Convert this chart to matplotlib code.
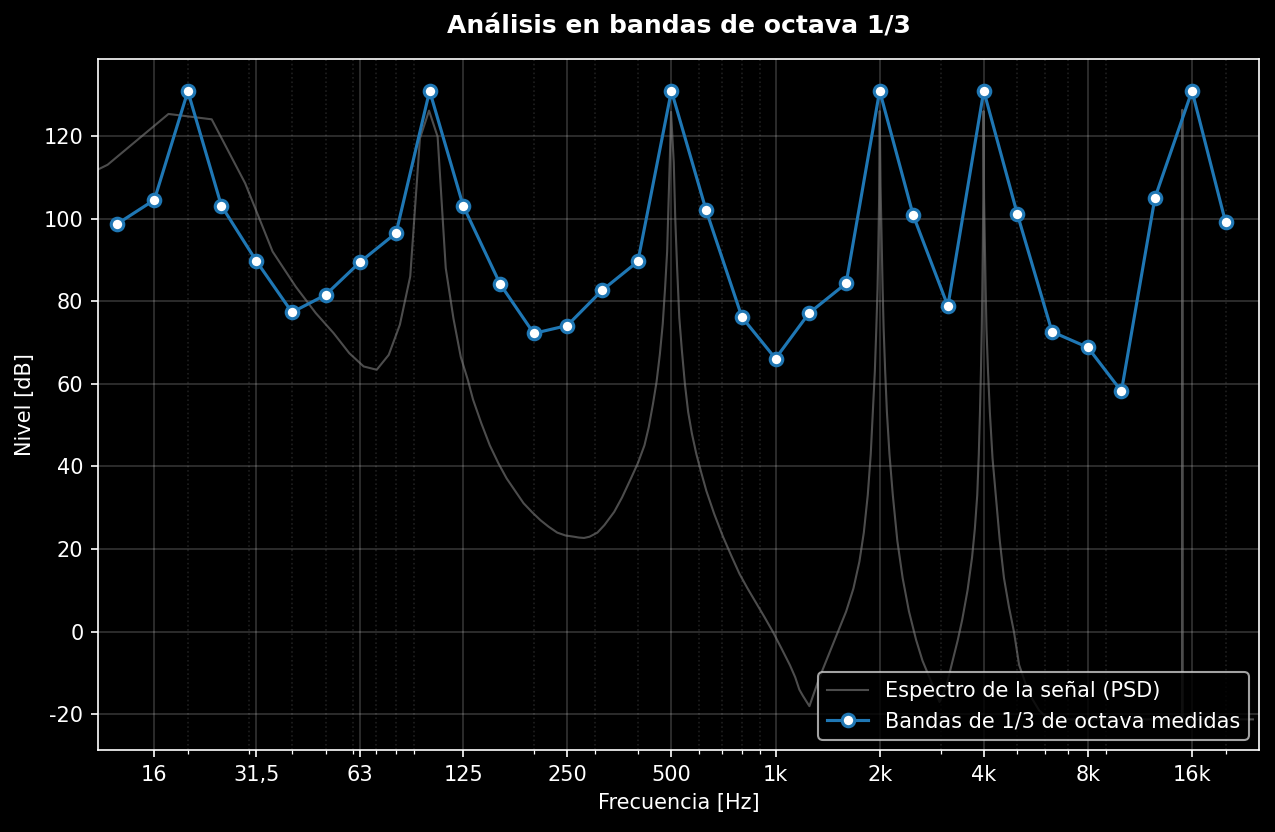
import matplotlib.pyplot as plt
from matplotlib.ticker import NullFormatter

# medicion en bandas de tercio de octava
band_freq = [12.5, 16, 20, 25, 31.5, 40, 50, 63, 80, 100, 125, 160, 200, 250, 315, 400,
             500, 630, 800, 1000, 1250, 1600, 2000, 2500, 3150, 4000, 5000, 6300, 8000,
             10000, 12500, 16000, 20000]
band_db = [98.7, 104.5, 130.8, 103.1, 89.8, 77.3, 81.5, 89.5, 96.5, 130.9, 103.1, 84.1, 72.2,
           74.1, 82.6, 89.6, 130.9, 102.0, 76.1, 66.1, 77.1, 84.3, 130.9, 100.8, 78.8, 130.9,
           101.1, 72.6, 68.8, 58.2, 105.0, 130.9, 99.1]

# espectro (PSD)
psd_freq = [5.86, 11.72, 17.58, 23.44, 29.30, 35.16, 41.02, 46.88, 52.73, 58.59, 64.45,
            70.31, 76.17, 82.03, 87.89, 93.75, 99.61, 105.47, 111.33, 117.19, 123.05,
            128.9, 133.5, 141, 149.3, 158, 167.0, 177, 186.9, 198, 209.1, 221, 233.8, 247,
            261.4, 270, 279.6, 290, 305.6, 320, 341.6, 360, 381.9, 400, 417.9, 430, 442.4,
            453, 463.1, 472, 479.5, 486, 490.6, 495, 498.8,
            508.0, 513, 519.3, 527, 536, 547, 559, 573, 590, 610, 631, 665, 705, 745, 787,
            830, 880, 930, 984, 1040, 1101, 1140, 1172, 1200, 1253,
            1338, 1464, 1600, 1680, 1748, 1800, 1848, 1885, 1911, 1937, 1956, 1972, 1983,
            1993, 2001, 2012, 2028, 2040, 2054, 2075, 2099, 2135, 2183, 2250, 2331, 2430,
            2548, 2660, 2785, 2980, 3120, 3250, 3360, 3465, 3590, 3700, 3770, 3830, 3870,
            3900, 3925, 3947, 3962, 3975, 3986, 3993, 4008, 4030, 4050, 4073, 4115, 4165,
            4240, 4332, 4450, 4576, 4730, 4890, 5060, 5410, 5780, 6170,
            14990, 14995, 15000, 15005, 15010, 24000]
psd_db = [100.6, 113.0, 125.3, 124.0, 108.5, 92.0, 83.5, 77.1, 72.3, 67.4, 64.2,
          63.4, 67.0, 74.3, 86.0, 119.4, 126.1, 119.8, 88.0, 75.8, 66.5,
          61.0, 56.2, 50.5, 45.1, 40.8, 37.1, 34.0, 31.1, 28.9, 27.0, 25.4, 24.0, 23.3,
          23.0, 22.8, 22.7, 23.0, 24.0, 25.8, 29.0, 32.5, 37.1, 40.8, 45.1, 49.5, 55.2,
          60.5, 67.2, 74.5, 83.3, 92.0, 103.4, 115.0, 125.8,
          113.5, 100.0, 88.3, 76.0, 68.2, 60.0, 53.2, 48.0, 43.1, 38.5, 34.1, 28.5, 23.0,
          18.4, 14.0, 10.5, 6.9, 3.5, -0.1, -4.0, -8.1, -11.0, -14.0, -15.5, -18.0,
          -11.2, -3.1, 4.9, 10.5, 17.0, 24.0, 33.1, 43.0, 53.2, 63.0, 73.3, 83.0, 93.4,
          105.0, 126.0, 108.0, 93.4, 83.0, 73.3, 63.0, 53.2, 43.0, 33.1, 22.0, 13.0, 5.0,
          -1.9, -7.0, -11.0, -17.0, -13.0, -7.1, -2.2, 2.9, 10.0, 18.0, 25.0, 33.1, 43.0,
          53.2, 63.0, 73.3, 83.0, 93.4, 105.0, 126.0, 105.0, 93.4, 83.0, 73.3, 63.0, 53.2,
          42.0, 33.1, 22.0, 13.0, 6.0, 0.0, -8.0, -15.0, -19.0, -21.2,
          -21.2, 100.0, 126.3, 100.0, -21.2, -21.2]

tick_freqs = [16, 31.5, 63, 125, 250, 500, 1000, 2000, 4000, 8000, 16000]
tick_labels = ['16', '31,5', '63', '125', '250', '500', '1k', '2k', '4k', '8k', '16k']

plt.style.use('dark_background')
plt.rcParams['axes.unicode_minus'] = False

fig, ax = plt.subplots(figsize=(8.5, 5.5467), dpi=150)
fig.subplots_adjust(left=0.0769, right=0.9875, top=0.9291, bottom=0.0986)

ax.semilogx(psd_freq, psd_db, color='gray', alpha=0.6, lw=1,
            label='Espectro de la señal (PSD)')
ax.semilogx(band_freq, band_db, '-o', color='#1f77b4', lw=1.5, ms=6,
            mfc='white', mec='#1f77b4', mew=1.5,
            label='Bandas de 1/3 de octava medidas')

ax.set_xticks(tick_freqs)
ax.set_xticklabels(tick_labels)
ax.xaxis.set_minor_formatter(NullFormatter())

ax.grid(True, which='major', alpha=0.2)
ax.grid(True, which='minor', ls=':', alpha=0.12)

ax.set_xlim(11, 25000)
ax.set_ylim(-28.6, 138.6)

ax.set_xlabel('Frecuencia [Hz]')
ax.set_ylabel('Nivel [dB]')
ax.set_title('Análisis en bandas de octava 1/3', fontweight='bold', fontsize=12, pad=12)
ax.legend(loc='lower right')

fig.savefig('out.png', dpi=150)
